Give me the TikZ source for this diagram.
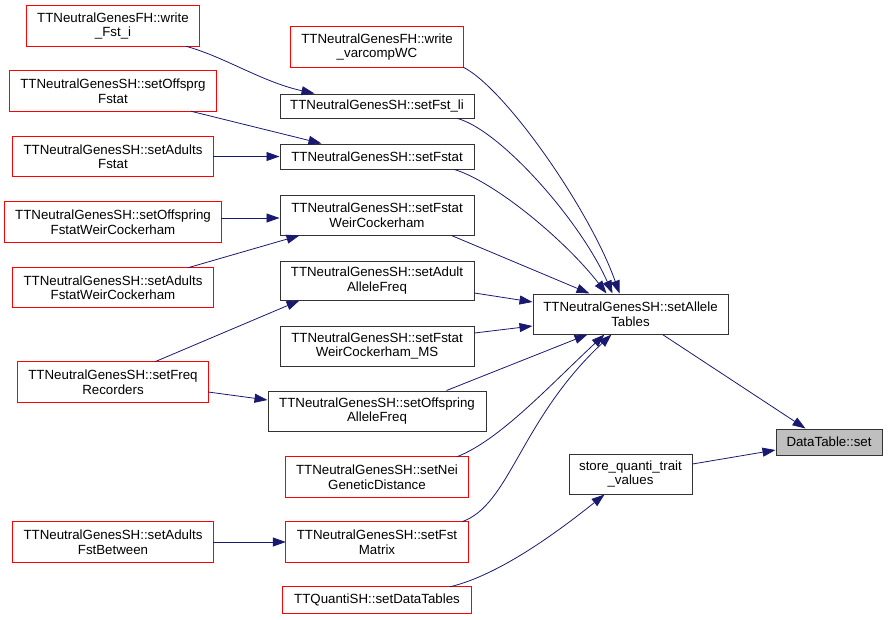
\documentclass[tikz,border=0pt]{standalone}
\usepackage{fontspec}
\setmainfont{Liberation Sans}
\usetikzlibrary{arrows.meta,calc}
\definecolor{edgec}{HTML}{191970}
\definecolor{redc}{HTML}{FF0000}
\definecolor{greyc}{HTML}{BFBFBF}
\definecolor{borderc}{HTML}{333333}
\tikzset{
  box/.style={draw=borderc, line width=1pt, inner sep=0pt, align=center,
    font=\fontsize{13.3}{14.5}\selectfont},
  redbox/.style={draw=none, inner sep=0pt, align=center,
    font=\fontsize{13.3}{14.5}\selectfont},
  redframe/.style={draw=redc, line width=1pt},
  rootbox/.style={box, fill=greyc},
  edge/.style={draw=edgec, line width=0.8pt, -{Triangle[length=13pt,width=9pt]}}
}
\begin{document}
\begin{tikzpicture}[x=1pt,y=-1pt]
\useasboundingbox (0,0) rectangle (888,619);
% left column
\node[redbox, minimum width=172pt, minimum height=40pt] (wfi) at (113,26) {TTNeutralGenesFH::write\\\_Fst\_i};
\node[redbox, minimum width=206pt, minimum height=40pt] (sof) at (113,91) {TTNeutralGenesSH::setOffsprg\\Fstat};
\node[redbox, minimum width=200pt, minimum height=39pt] (saf) at (113,156.5) {TTNeutralGenesSH::setAdults\\Fstat};
\node[redbox, minimum width=216pt, minimum height=40pt] (sofwc) at (113,222) {TTNeutralGenesSH::setOffspring\\FstatWeirCockerham};
\node[redbox, minimum width=200pt, minimum height=39pt] (safwc) at (113,287.5) {TTNeutralGenesSH::setAdults\\FstatWeirCockerham};
\node[redbox, minimum width=190pt, minimum height=40pt] (sfr) at (113,382) {TTNeutralGenesSH::setFreq\\Recorders};
\node[redbox, minimum width=200pt, minimum height=40pt] (safb) at (113,542) {TTNeutralGenesSH::setAdults\\FstBetween};
% middle column
\node[redbox, minimum width=172pt, minimum height=40pt] (wvc) at (377,47) {TTNeutralGenesFH::write\\\_varcompWC};
\node[box, minimum width=194pt, minimum height=24pt] (sfl) at (377,106) {TTNeutralGenesSH::setFst\_li};
\node[box, minimum width=194pt, minimum height=25pt] (sf) at (377,156.5) {TTNeutralGenesSH::setFstat};
\node[box, minimum width=194pt, minimum height=40pt] (sfwc) at (377,215) {TTNeutralGenesSH::setFstat\\WeirCockerham};
\node[box, minimum width=194pt, minimum height=39pt] (saaf) at (377,280.5) {TTNeutralGenesSH::setAdult\\AlleleFreq};
\node[box, minimum width=194pt, minimum height=40pt] (sfwcms) at (377,346) {TTNeutralGenesSH::setFstat\\WeirCockerham\_MS};
\node[box, minimum width=218pt, minimum height=40pt] (soaf) at (377,411) {TTNeutralGenesSH::setOffspring\\AlleleFreq};
\node[redbox, minimum width=182pt, minimum height=40pt] (snei) at (377,477) {TTNeutralGenesSH::setNei\\GeneticDistance};
\node[redbox, minimum width=182pt, minimum height=40pt] (sfm) at (377,542) {TTNeutralGenesSH::setFst\\Matrix};
\node[redbox, minimum width=188pt, minimum height=26pt] (sdt) at (377,600) {TTQuantiSH::setDataTables};
% right
\node[box, minimum width=195pt, minimum height=40pt] (sat) at (630.5,314) {TTNeutralGenesSH::setAllele\\Tables};
\node[box, minimum width=123pt, minimum height=40pt] (sqt) at (630.5,474) {store\_quanti\_trait\\\_values};
\node[rootbox, minimum width=106pt, minimum height=26pt] (dts) at (829,442) {DataTable::set};
% red frames
\foreach \n in {wfi,sof,saf,sofwc,safwc,sfr,safb,wvc,snei,sfm,sdt}
  \draw[redframe] (\n.south west) rectangle (\n.north east);
% edges
\draw[edge] ([xshift=159pt]wfi.south west) .. controls (225,57) and (262,82) .. ([xshift=35pt]sfl.north west);
\draw[edge] ([xshift=181pt]sof.south west) -- ([xshift=42pt]sf.north west);
\draw[edge] (saf.east) -- (sf.west);
\draw[edge] ([yshift=4pt]sofwc.east) -- ([yshift=-3pt]sfwc.west);
\draw[edge] ([xshift=175pt]safwc.north west) -- ([xshift=20pt]sfwc.south west);
\draw[edge] ([xshift=137pt]sfr.north west) -- ([xshift=20pt]saaf.south west);
\draw[edge] ([yshift=-10pt]sfr.east) -- ([yshift=11pt]soaf.west);
\draw[edge] (safb.east) -- (sfm.west);
\draw[edge] (wvc.south east) .. controls (505,88) and (590,210) .. ([xshift=87pt]sat.north west);
\draw[edge] ([xshift=178pt]sfl.south west) .. controls (500,130) and (580,220) .. ([xshift=80pt]sat.north west);
\draw[edge] ([xshift=175pt]sf.south west) .. controls (495,182) and (565,240) .. ([xshift=74pt]sat.north west);
\draw[edge] ([xshift=172pt]sfwc.south west) -- ([xshift=57pt]sat.north west);
\draw[edge] ([yshift=-12.5pt]saaf.east) -- ([yshift=12pt]sat.west);
\draw[edge] ([yshift=13pt]sfwcms.east) -- ([yshift=-12pt]sat.west);
\draw[edge] ([xshift=179pt]soaf.north west) -- ([xshift=55pt]sat.south west);
\draw[edge] ([xshift=171pt]snei.north west) .. controls (500,440) and (550,385) .. ([xshift=72pt]sat.south west);
\draw[edge] ([xshift=176pt]sfm.north west) .. controls (510,505) and (520,420) .. ([xshift=79pt]sat.south west);
\draw[edge] ([xshift=130pt]sat.south west) -- ([xshift=30pt]dts.north west);
\draw[edge] ([yshift=10pt]sqt.east) -- ([yshift=-8pt]dts.west);
\draw[edge] ([xshift=167pt]sdt.north west) .. controls (500,575) and (560,530) .. ([xshift=36pt]sqt.south west);
\end{tikzpicture}
\end{document}
